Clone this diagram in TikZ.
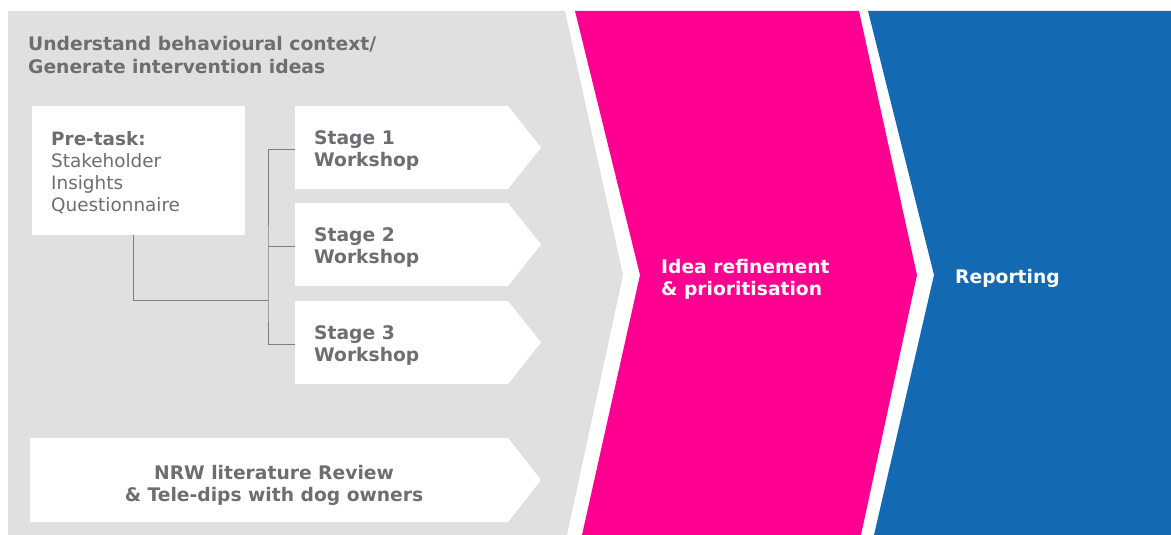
\documentclass[tikz,border=0pt]{standalone}
\usepackage{fontspec}
\setmainfont{DejaVu Sans}
\usetikzlibrary{calc}
\definecolor{panelgray}{HTML}{E0E0E0}
\definecolor{textgray}{HTML}{6D6E71}
\definecolor{linegray}{HTML}{7F7F7F}
\definecolor{hotpink}{HTML}{FF0090}
\definecolor{deepblue}{HTML}{1469B3}
\newcommand{\boldsize}{\bfseries\fontsize{18.7}{22}\selectfont}
\newcommand{\plainsize}{\fontsize{18.4}{22.2}\selectfont}
\tikzset{
  boxtext/.style={text=textgray, font=\plainsize, align=left, anchor=north west, inner sep=0pt},
  boldtext/.style={boxtext, font=\boldsize},
  headtext/.style={text=white, font=\boldsize, align=left, inner sep=0pt},
  link/.style={draw=linegray, line width=0.9pt},
}
\begin{document}
\begin{tikzpicture}[x=1pt,y=-1pt]
\useasboundingbox (0,0) rectangle (1171,535);
\fill[white] (0,0) rectangle (1171,535);

% three process chevrons
\fill[panelgray] (8,11) -- (565,11) -- (623,275) -- (567,535) -- (8,535) -- cycle;
\fill[hotpink] (575,11) -- (859,11) -- (917,275) -- (861,535) -- (582,535) -- (640,275) -- cycle;
\fill[deepblue] (868,11) -- (1171,11) -- (1171,535) -- (874,535) -- (934,275) -- cycle;

% section heading
\node[boldtext, font=\bfseries\fontsize{18.7}{23}\selectfont] (head) at (28,36)
  {Understand behavioural context/\\Generate intervention ideas};

% pre-task box
\fill[white] (32,106) rectangle (245,235);
\coordinate (pretop) at (133,235);
\node[boxtext] (pre) at (51,131)
  {\textbf{Pre-task:}\\Stakeholder\\Insights\\Questionnaire};

% stage boxes (arrow shaped)
\foreach \i/\t in {1/106, 2/203, 3/301}{
  \fill[white] (295,\t) -- (508,\t) -- (541,\t+41.5) -- (508,\t+83) -- (295,\t+83) -- cycle;
  \coordinate (s\i) at (295,\t+43);
  \node[boldtext] (stage\i) at (314,\t+24.5) {Stage \i\\Workshop};
}

% literature box
\fill[white] (30,438) -- (508,438) -- (541,480) -- (508,522) -- (30,522) -- cycle;
\node[text=textgray, font=\boldsize, align=center, inner sep=0pt] (nrw) at (274,485.5)
  {NRW literature Review\\\& Tele-dips with dog owners};

% connectors
\coordinate (jn) at (268,300);
\draw[link] (pretop) |- (jn);
\draw[link] (s1) -| (jn) |- (s3);
\draw[link] (jn |- s2) -- (s2);

% stage labels on the coloured chevrons
\node[headtext, anchor=west] (idea) at (661,279.5) {Idea refinement\\\& prioritisation};
\node[headtext, anchor=base west] (rep) at (955,283) {Reporting};
\end{tikzpicture}
\end{document}
